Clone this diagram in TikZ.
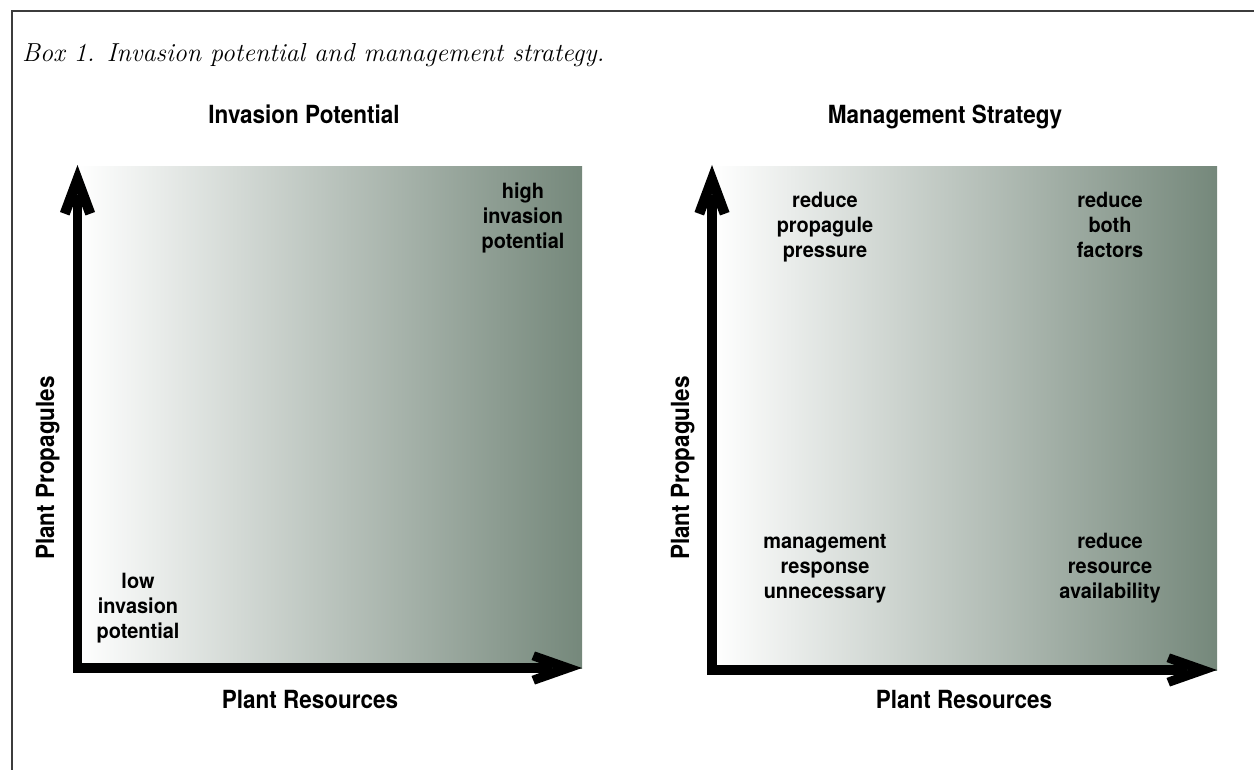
\documentclass[tikz,border=0pt]{standalone}
\usepackage{fontspec}
\newfontfamily\hvt[FakeStretch=0.9]{TeX Gyre Heros}
\newfontfamily\hvl[FakeStretch=0.95]{TeX Gyre Heros}
\usetikzlibrary{calc}
\definecolor{gm}{RGB}{117,136,123}
\definecolor{framec}{RGB}{60,60,60}
\newcommand\mylines[1]{\begin{tabular}[t]{@{}c@{}}#1\end{tabular}}
\tikzset{
  axisline/.style={line width=9.5pt, line join=miter, line cap=butt},
  ttl/.style={font=\hvt\bfseries\fontsize{25}{30}\selectfont, inner sep=0pt, anchor=base},
  lbl/.style={font=\hvl\bfseries\fontsize{21}{25}\selectfont, inner sep=0pt, anchor=base},
  uphead/.pic={\fill (0,0) -- (17.5,47) -- (8,50.5) -- (0,29) -- (-8,50.5) -- (-17.5,47) -- cycle;},
  righthead/.pic={\fill (0,0) -- (-47,-16.5) -- (-50.5,-8) -- (-29,0) -- (-50.5,8) -- (-47,16.5) -- cycle;}
}
\begin{document}
\begin{tikzpicture}[x=1pt,y=-1pt]
\useasboundingbox (0,0) rectangle (1254,770);
% frame
\draw[framec, line width=2pt] (12,770) -- (12,11) -- (1254,11);
\node[anchor=base west, inner sep=0pt, font=\fontsize{26}{31}\selectfont\itshape] (box) at (22,62) {Box 1. Invasion potential and management strategy.};

% ---------- left panel ----------
\coordinate (O1) at (77.5,668);
\coordinate (V1) at (77.5,165);
\coordinate (H1) at (582,668);
\shade[left color=white, right color=gm] (77.5,167) rectangle (582,668);
\draw[axisline] ($(V1)+(0,30)$) -- (O1) -- ($(H1)+(-30,0)$);
\pic at (V1) {uphead};
\pic at (H1) {righthead};
\node[ttl] (t1) at (304,124) {Invasion Potential};
\node[ttl] (x1) at (310,708) {Plant Resources};
\node[ttl, rotate=90] (y1) at (54,468) {Plant Propagules};
\node[lbl] (hi) at (523,199) {\mylines{high\\invasion\\potential}};
\node[lbl] (lo) at (138,588) {\mylines{low\\invasion\\potential}};

% ---------- right panel ----------
\coordinate (O2) at (712,670);
\coordinate (V2) at (712,165);
\coordinate (H2) at (1217,670);
\shade[left color=white, right color=gm] (712,167) rectangle (1217,670);
\draw[axisline] ($(V2)+(0,30)$) -- (O2) -- ($(H2)+(-30,0)$);
\pic at (V2) {uphead};
\pic at (H2) {righthead};
\node[ttl] (t2) at (945,124) {Management Strategy};
\node[ttl] (x2) at (964,708) {Plant Resources};
\node[ttl, rotate=90] (y2) at (689,468) {Plant Propagules};
\node[lbl] (rp) at (825,208) {\mylines{reduce\\propagule\\pressure}};
\node[lbl] (rb) at (1110,208) {\mylines{reduce\\both\\factors}};
\node[lbl] (mr) at (825,548) {\mylines{management\\response\\unnecessary}};
\node[lbl] (rr) at (1110,548) {\mylines{reduce\\resource\\availability}};
\end{tikzpicture}
\end{document}
